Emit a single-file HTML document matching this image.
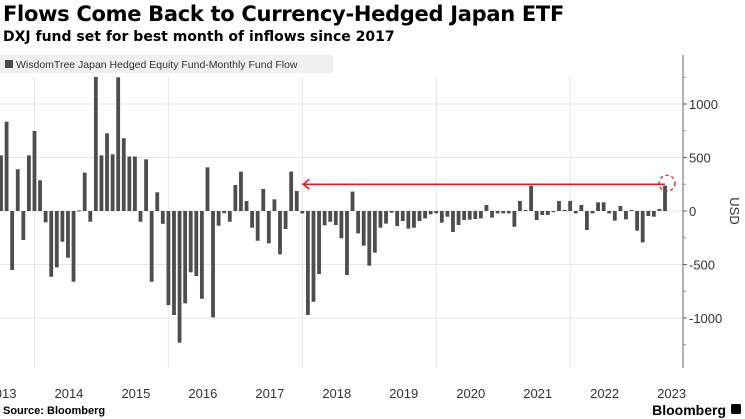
<!DOCTYPE html>
<html><head><meta charset="utf-8"><style>
body{margin:0;background:#fff;width:745px;height:419px;overflow:hidden;font-family:"Liberation Sans",sans-serif;position:relative}
.t{position:absolute;left:3px;top:2px;font-size:21px;font-weight:bold;color:#000;font-family:"DejaVu Sans",sans-serif;letter-spacing:-0.3px}
.s{position:absolute;left:3px;top:29px;font-size:14px;font-weight:bold;color:#000;font-family:"DejaVu Sans",sans-serif}
</style></head><body>
<div class="t">Flows Come Back to Currency-Hedged Japan ETF</div>
<div class="s">DXJ fund set for best month of inflows since 2017</div>
<svg id="c" width="745" height="419" style="position:absolute;left:0;top:0"></svg>
<script>
const values=[520,835,-552,390,-271,520,748,287,-106,-614,-527,-287,-437,-661,5,358,-100,1260,520,726,530,1250,680,509,509,-100,483,-661,175,-120,-879,-972,-1231,-863,-573,-608,-820,408,-994,-137,-20,-100,243,368,94,-156,-278,206,-302,109,-405,-168,368,187,-22,-972,-848,-589,-134,-100,-131,-255,-598,181,-209,-324,-511,-389,-156,-118,-16,-140,-94,-165,-156,-94,-69,-31,-22,-109,-53,-196,-131,-84,-81,-75,-69,56,-62,-22,-22,-22,-147,94,10,237,-84,-37,-37,-10,94,10,94,-22,56,-178,-22,81,81,-22,-90,47,-78,10,-184,-293,-47,-53,19,237];
const yTicks=[1000,500,0,-500,-1000];
const yTickLabels=["1000","500","0","-500","-1000"];
const yMinorTicks=[1250,750,250,-250,-750,-1250];
const xLabels=["2013","2014","2015","2016","2017","2018","2019","2020","2021","2022","2023"];
const NS="http://www.w3.org/2000/svg";
const svg=document.getElementById('c');
const y=v=>211-v*0.107;
const x=i=>1+i*5.58;
const TOP=77,BOT=368;
function mk(t,a,p){const e=document.createElementNS(NS,t);for(const k in a)e.setAttribute(k,a[k]);(p||svg).appendChild(e);return e;}
const lg=mk('rect',{x:0,y:55,width:333,height:18,fill:'#efefef'});

const ls=mk('rect',{x:5,y:60,width:8,height:8,fill:'#4d4d4d'});

const lt=mk('text',{x:16,y:68,'font-size':10.5,fill:'#333','font-family':'Liberation Sans, sans-serif'});
lt.textContent='WisdomTree Japan Hedged Equity Fund-Monthly Fund Flow';

yTicks.forEach((v,i)=>{
 const g=mk('line',{x1:0,x2:683,y1:y(v),y2:y(v),stroke:'#e6e6e6','stroke-width':1});
 
 const tk=mk('line',{x1:683,x2:687,y1:y(v),y2:y(v),stroke:'#666'});
 
 const t=mk('text',{x:689,y:y(v)+5,'font-size':13,fill:'#333'});
 t.textContent=yTickLabels[i];
 
});
yMinorTicks.forEach(v=>{
 const tk=mk('line',{x1:683,x2:686,y1:y(v),y2:y(v),stroke:'#999'});
 
});
for(let i=6;i<120;i+=24){
 const g=mk('line',{x1:x(i),x2:x(i),y1:TOP,y2:BOT,stroke:'#e6e6e6'});
 
}
const ax=mk('line',{x1:683,x2:683,y1:55,y2:368,stroke:'#666'});

values.forEach((v,i)=>{
 const vv=Math.min(v,(211-TOP)/0.107);
 const y0=y(Math.max(vv,0)),h=Math.max(Math.abs(vv)*0.107,1);
 const b=mk('rect',{x:x(i)-1.9,y:y0,width:3.8,height:h,fill:'#4d4d4d'});
 
});
xLabels.forEach((l,i)=>{
 const t=mk('text',{x:x(i*12)+1,y:398,'font-size':13,fill:'#333','text-anchor':'middle'});
 t.textContent=l;
 
});
const ar=mk('line',{x1:x(54),x2:x(119),y1:y(250),y2:y(250),stroke:'#e8191e','stroke-width':1.5});

const ah=mk('polyline',{points:`${x(54)+7},${y(250)-5} ${x(54)+1},${y(250)} ${x(54)+7},${y(250)+5}`,fill:'none',stroke:'#e8191e','stroke-width':1.5});

const ci=mk('circle',{cx:x(119)+2,cy:y(250)-1,r:8,fill:'none',stroke:'#e8191e','stroke-width':1.3,'stroke-dasharray':'3,3'});

const u=mk('text',{x:730,y:211,'font-size':13,fill:'#333','text-anchor':'middle',transform:'rotate(90 730 211)'});
u.textContent='USD';
const s=mk('text',{x:3,y:414,'font-size':11,'font-weight':'bold',fill:'#000'});
s.textContent='Source: Bloomberg';
const bl=mk('text',{x:726,y:415,'font-size':14,'font-weight':'bold',fill:'#000','text-anchor':'end'});
bl.textContent='Bloomberg';
const bi=mk('rect',{x:731,y:404,width:10,height:10,rx:1.5,fill:'#000'});

</script>
</body></html>
